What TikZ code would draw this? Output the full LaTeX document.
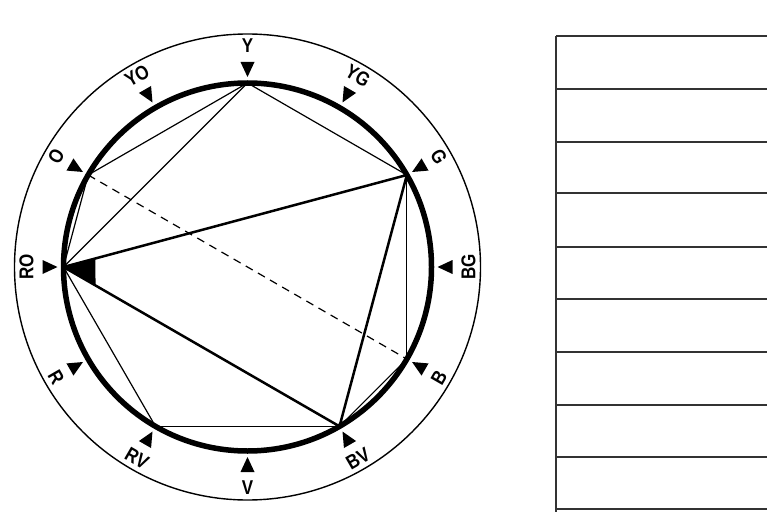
\documentclass[tikz,border=0pt]{standalone}
\usepackage{fontspec}
\setmainfont{Liberation Sans}
\newfontfamily\lblfont[FakeStretch=0.85, UprightFont={* Bold}]{Liberation Sans}
\usetikzlibrary{calc}
\begin{document}
\begin{tikzpicture}[x=1pt,y=1pt,
  thinline/.style={line width=1.2pt},
  mainline/.style={line width=2.5pt},
  ring/.style={line width=5.5pt},
  outerring/.style={line width=1.4pt},
  lbl/.style={font=\lblfont\fontsize{20}{20}\selectfont, inner sep=0pt},
  rulestyle/.style={line width=1.8pt, draw=black!80}]
\useasboundingbox (0,0) rectangle (767,512);
\coordinate (C) at (247.5,245);
\draw[outerring] (C) circle (233);
\draw[ring] (C) circle (184);
\foreach \n/\a/\r in {Y/90/0, YG/60/-30, G/30/-60, BG/0/90, B/-30/60, BV/-60/30, V/-90/0, RV/-120/-30, R/-150/-60, RO/180/90, O/150/60, YO/120/30}{
  \coordinate (\n) at ($(C)+(\a:184)$);
  \fill ($(C)+(\a:190)$) -- ($(C)+(\a:205)+(\a+90:7)$) -- ($(C)+(\a:205)+(\a-90:7)$) -- cycle;
  \node[lbl, rotate=\r] (l\n) at ($(C)+(\a:221)$) {\n};
}
\draw[thinline] (Y) -- (O);
\draw[thinline] (Y) -- (RO);
\draw[thinline] (Y) -- (G);
\draw[thinline] (O) -- (RO);
\draw[thinline] (G) -- (B);
\draw[thinline] (B) -- (BV);
\draw[thinline] (RO) -- (RV);
\draw[thinline] (RV) -- (BV);
\draw[mainline] (RO) -- (G);
\draw[mainline] (RO) -- (BV);
\draw[mainline] (G) -- (BV);
\draw[thinline, dash pattern=on 8pt off 6pt] (O) -- (B);
\fill (RO) -- ($(RO)!33pt!(G)$) -- ($(RO)!37pt!(BV)$) -- cycle;
% table on the right
\draw[rulestyle] (556,476) -- (556,0);
\foreach \yy in {476, 423, 370, 319, 265, 213, 160, 107, 55, 3}{
  \draw[rulestyle] (556,\yy) -- (767,\yy);
}
\end{tikzpicture}
\end{document}
